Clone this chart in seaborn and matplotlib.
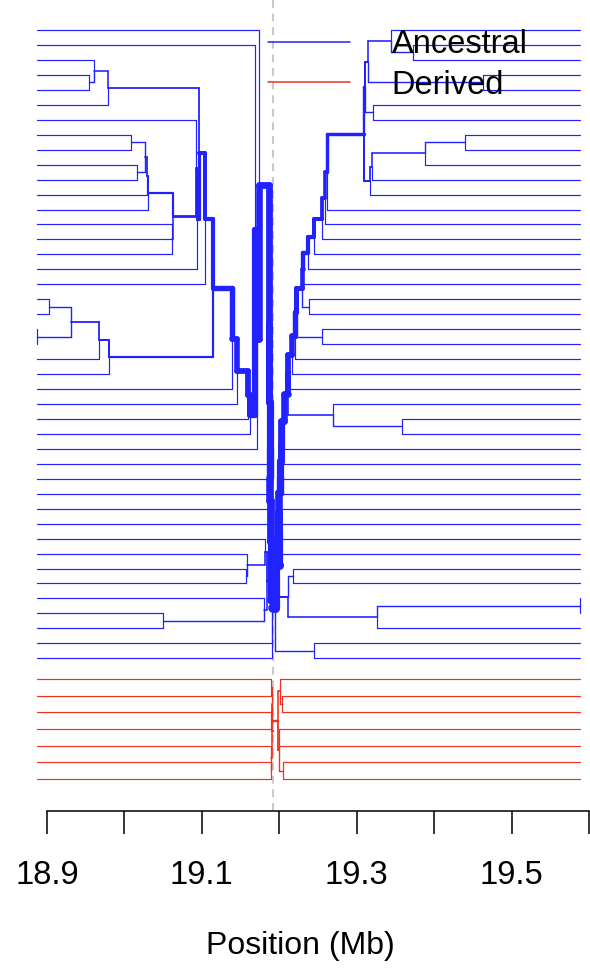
import matplotlib
matplotlib.use("Agg")
import matplotlib.pyplot as plt
from matplotlib.collections import LineCollection
from matplotlib.lines import Line2D
import seaborn as sns

# focal marker and the span of markers (Mb)
core = 19.1917
pos_min = 18.8871
pos_max = 19.5884

# position (Mb) where two neighbouring haplotypes stop sharing their alleles,
# going left / right of the focal marker (43 ancestral, 7 derived haplotypes)
anc_left = [19.1734, 19.1686, 18.9611, 18.9546, 18.9792, 19.0967, 19.0924, 19.0085,
            19.0266, 19.0166, 19.0288, 19.0308, 19.0627, 19.0614, 19.0614, 19.0933,
            19.1041, 19.1140, 18.9026, 18.9310, 18.8871, 18.9675, 18.9801, 19.1385,
            19.1450, 19.1600, 19.1622, 19.1708, 19.1867, 19.1871, 19.1875, 19.1879,
            19.1883, 19.1890, 19.1815, 19.1587, 19.1570, 19.1835, 19.1806, 19.0502,
            19.1906, 19.1906]
anc_right = [19.3439, 19.3723, 19.3150, 19.4631, 19.3107, 19.3214, 19.3094, 19.4398,
             19.3882, 19.3193, 19.3172, 19.2616, 19.2590, 19.2548, 19.2452, 19.2367,
             19.2310, 19.2289, 19.2384, 19.2216, 19.2548, 19.2203, 19.2168, 19.2116,
             19.2109, 19.2698, 19.3589, 19.2065, 19.2022, 19.2017, 19.2012, 19.2007,
             19.2001, 19.2016, 19.1996, 19.1991, 19.2181, 19.2116, 19.5884, 19.3258,
             19.1945, 19.2452]
der_left = [19.1893, 19.1906, 19.1899, 19.1911, 19.1897, 19.1893]
der_right = [19.2009, 19.2039, 19.1983, 19.2000, 19.2000, 19.2052]

allele_names = ["Ancestral", "Derived"]
allele_colors = ["#2222ff", "#ee3322"]

tick_pos = [18.9, 19.0, 19.1, 19.2, 19.3, 19.4, 19.5, 19.6]
tick_labels = ["18.9", "", "19.1", "", "19.3", "", "19.5", ""]


def furcation(gaps, ys, side):
    # dendrogram-like split tree; each node sits midway between its outer children
    segs = []
    closest = max if side == "left" else min
    edge = pos_min if side == "left" else pos_max

    def node(lo, hi):
        if lo == hi:
            return edge, ys[lo], 1
        inner = gaps[lo:hi]
        x = closest(inner)
        cuts = [lo + k + 1 for k, g in enumerate(inner) if g == x]
        bounds = [lo] + cuts + [hi + 1]
        kids = [node(a, b - 1) for a, b in zip(bounds[:-1], bounds[1:])]
        y = (kids[0][1] + kids[-1][1]) / 2
        for kx, ky, kn in kids:
            segs.append(((x, y), (x, ky), kn))
            segs.append(((x, ky), (kx, ky), kn))
        return x, y, hi - lo + 1

    rx, ry, rn = node(0, len(ys) - 1)
    segs.append(((core, ry), (rx, ry), rn))
    return segs


n_anc = len(anc_left) + 1
n_der = len(der_left) + 1
y_anc = [float(i) for i in range(n_anc)]
y_der = [43.38 + 1.114 * j for j in range(n_der)]

sns.set_theme(style="white")
plt.rcParams["font.family"] = ["Liberation Sans", "DejaVu Sans"]
plt.rcParams["text.color"] = "black"
plt.rcParams["xtick.color"] = "black"

fig = plt.figure(figsize=(5.9, 9.72), dpi=100)
ax = fig.add_axes([0, 0, 1, 1])
ax.set_xlim(18.8393, 19.6013)
ax.set_ylim(62.97, -2.005)

axis_y = 52.19
ax.vlines(core, -2.005, axis_y, colors="#c8c8c8", linewidth=1.4,
          linestyles=(0, (4, 3)), zorder=1)

groups = [(anc_left, anc_right, y_anc, allele_colors[0]),
          (der_left, der_right, y_der, allele_colors[1])]
for gl, gr, ys, col in groups:
    segs = furcation(gl, ys, "left") + furcation(gr, ys, "right")
    segs.sort(key=lambda s: s[2])
    lines = [[a, b] for a, b, n in segs]
    widths = [(1.0 + 0.2 * n) * 0.72 for a, b, n in segs]
    lc = LineCollection(lines, colors=col, linewidths=widths, capstyle="round",
                        joinstyle="round", zorder=2)
    ax.add_collection(lc)

# x axis drawn R-style below the diagram
sns.despine(ax=ax, left=True, top=True, right=True)
ax.spines["bottom"].set_position(("data", axis_y))
ax.spines["bottom"].set_bounds(tick_pos[0], tick_pos[-1])
ax.spines["bottom"].set_color("black")
ax.spines["bottom"].set_linewidth(1.1)
ax.set_xticks(tick_pos)
ax.set_xticklabels(tick_labels)
ax.set_yticks([])
ax.tick_params(axis="x", direction="out", length=16.5, width=1.1, color="black",
               labelcolor="black", labelsize=23.5, pad=19, bottom=True)
ax.set_facecolor("white")

fig.text(300 / 590, 1 - 946 / 972, "Position (Mb)", ha="center", va="center",
         fontsize=23, color="black")

handles = [Line2D([], [], color=c, lw=1.1) for c in allele_colors]
leg = ax.legend(handles, allele_names, loc="upper left",
                bbox_to_anchor=(268 / 590, 1 - 29 / 972), bbox_transform=fig.transFigure,
                frameon=False, fontsize=23.5, handlelength=2.5, handletextpad=1.29,
                borderpad=0, borderaxespad=0, labelspacing=0.3)
for t in leg.get_texts():
    t.set_color("black")

fig.savefig("out.png", dpi=100)
